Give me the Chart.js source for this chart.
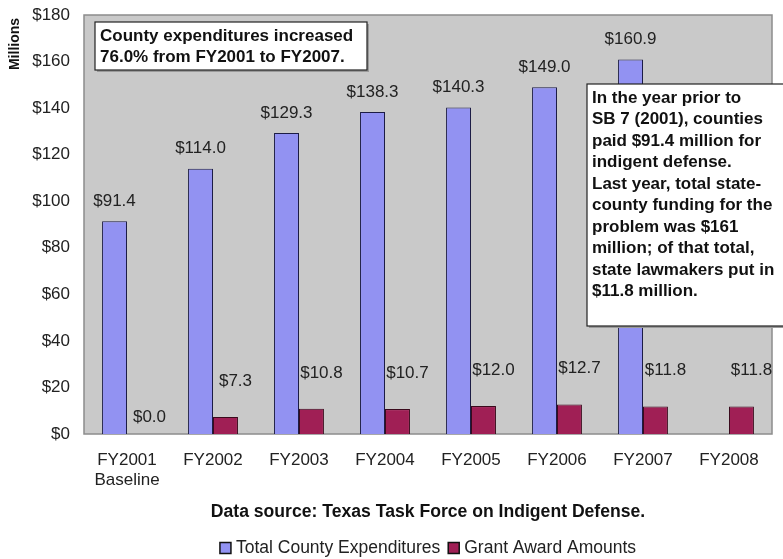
<!DOCTYPE html>
<html>
<head>
<meta charset="utf-8">
<script src="https://cdn.jsdelivr.net/npm/chart.js@4.4.0/dist/chart.umd.min.js"></script>
<style>
  html, body { margin: 0; padding: 0; background: #fff; }
  #wrap { width: 783px; height: 559px; position: relative; }
</style>
</head>
<body>
<div id="wrap"><canvas id="chart"></canvas></div>
<script>
// Chart data
const categories = [['FY2001', 'Baseline'], 'FY2002', 'FY2003', 'FY2004', 'FY2005', 'FY2006', 'FY2007', 'FY2008'];
const countyExpenditures = [91.4, 114.0, 129.3, 138.3, 140.3, 149.0, 160.9, null];
const grantAwards = [0.0, 7.3, 10.8, 10.7, 12.0, 12.7, 11.8, 11.8];
const yTicks = [0, 20, 40, 60, 80, 100, 120, 140, 160, 180];

const noteTop = ['County expenditures increased', '76.0% from FY2001 to FY2007.'];
const noteRight = [
    'In the year prior to', 'SB 7 (2001), counties', 'paid $91.4 million for',
    'indigent defense.', 'Last year, total state-', 'county funding for the',
    'problem was $161', 'million; of that total,', 'state lawmakers put in',
    '$11.8 million.'
];
const sourceText = 'Data source: Texas Task Force on Indigent Defense.';

const FONT = "'Liberation Sans', Arial, sans-serif";

// Plot background + border, drawn before bars
const plotBackground = {
    id: 'plotBackground',
    beforeDatasetsDraw(chart) {
        const { ctx, chartArea: a } = chart;
        ctx.save();
        ctx.fillStyle = '#c9c9c9';
        ctx.fillRect(a.left, a.top, a.right - a.left, a.bottom - a.top);
        ctx.strokeStyle = '#8c8c8c';
        ctx.lineWidth = 1.5;
        ctx.strokeRect(a.left, a.top, a.right - a.left, a.bottom - a.top);
        ctx.restore();
    }
};

function noteBox(ctx, x, y, w, h, lines, lineH) {
    ctx.fillStyle = '#9a9a9a';
    ctx.fillRect(x + 2, y + 2, w, h);
    ctx.fillStyle = '#ffffff';
    ctx.fillRect(x, y, w, h);
    ctx.strokeStyle = '#222';
    ctx.lineWidth = 1.2;
    ctx.strokeRect(x, y, w, h);
    ctx.fillStyle = '#111';
    ctx.font = 'bold 17px ' + FONT;
    ctx.textAlign = 'left';
    ctx.textBaseline = 'middle';
    lines.forEach((t, i) => ctx.fillText(t, x + 5, y + 14 + i * lineH));
}

// Value labels, notes, axis title, source line and legend
const extras = {
    id: 'extras',
    afterDraw(chart) {
        const { ctx, chartArea: a } = chart;
        const midX = (a.left + a.right) / 2;
        ctx.save();
        ctx.font = '17px ' + FONT;
        ctx.fillStyle = '#222';
        ctx.textAlign = 'center';
        ctx.textBaseline = 'middle';
        chart.getDatasetMeta(0).data.forEach((bar, i) => {
            const v = countyExpenditures[i];
            if (v == null) return;
            ctx.fillText('$' + v.toFixed(1), bar.x, bar.y - 20);
        });
        chart.getDatasetMeta(1).data.forEach((bar, i) => {
            const v = grantAwards[i];
            ctx.fillText('$' + v.toFixed(1), bar.x + 10, bar.y - (v > 0 ? 36 : 17));
        });

        noteBox(ctx, 95, 22, 272, 48, noteTop, 21);
        noteBox(ctx, 587, 84, 210, 242, noteRight, 21.5);

        // "Millions" rotated at the top of the y axis
        ctx.save();
        ctx.translate(15, 44);
        ctx.rotate(-Math.PI / 2);
        ctx.font = 'bold 14px ' + FONT;
        ctx.fillStyle = '#111';
        ctx.textAlign = 'center';
        ctx.fillText('Millions', 0, 0);
        ctx.restore();

        ctx.font = 'bold 17.6px ' + FONT;
        ctx.fillStyle = '#111';
        ctx.textAlign = 'center';
        ctx.fillText(sourceText, midX, 512);

        // legend, centred under the plot area
        ctx.font = '17.5px ' + FONT;
        const ds = chart.data.datasets;
        const box = 11, gapBox = 5, gapItem = 8;
        const widths = ds.map(d => box + gapBox + ctx.measureText(d.label).width);
        let x = midX - (widths.reduce((s, w) => s + w, 0) + gapItem * (ds.length - 1)) / 2;
        const y = 548;
        ds.forEach((d, i) => {
            ctx.fillStyle = d.backgroundColor;
            ctx.fillRect(x, y - box / 2, box, box);
            ctx.strokeStyle = '#111';
            ctx.lineWidth = 1.5;
            ctx.strokeRect(x, y - box / 2, box, box);
            ctx.fillStyle = '#222';
            ctx.textAlign = 'left';
            ctx.fillText(d.label, x + box + gapBox, y);
            x += widths[i] + gapItem;
        });
        ctx.restore();
    }
};

new Chart(document.getElementById('chart'), {
    type: 'bar',
    data: {
        labels: categories,
        datasets: [
            {
                label: 'Total County Expenditures',
                data: countyExpenditures,
                backgroundColor: '#9292f2',
                borderColor: '#1c1c45',
                borderWidth: 1
            },
            {
                label: 'Grant Award Amounts',
                data: grantAwards,
                backgroundColor: '#a01f55',
                borderColor: '#3a0a1c',
                borderWidth: 1
            }
        ]
    },
    options: {
        responsive: true,
        maintainAspectRatio: false,
        animation: false,
        layout: { padding: { top: 15, right: 11, left: 0, bottom: 0 } },
        datasets: { bar: { categoryPercentage: 0.58, barPercentage: 1 } },
        plugins: {
            tooltip: { enabled: false },
            legend: { display: false }
        },
        scales: {
            x: {
                grid: { display: false, drawTicks: false },
                border: { display: false },
                ticks: { font: { family: FONT, size: 17 }, color: '#222', padding: 16 },
                afterFit(scale) { scale.height = 125; }
            },
            y: {
                min: 0,
                max: 180,
                afterBuildTicks(scale) { scale.ticks = yTicks.map(v => ({ value: v })); },
                grid: { display: false, drawTicks: false },
                border: { display: false },
                ticks: {
                    font: { family: FONT, size: 17 },
                    color: '#222',
                    padding: 14,
                    callback: v => '$' + v
                },
                afterFit(scale) {
                    scale.width = 84;
                    scale.paddingTop = 0;
                    scale.paddingBottom = 0;
                }
            }
        }
    },
    plugins: [plotBackground, extras]
});
</script>
</body>
</html>
